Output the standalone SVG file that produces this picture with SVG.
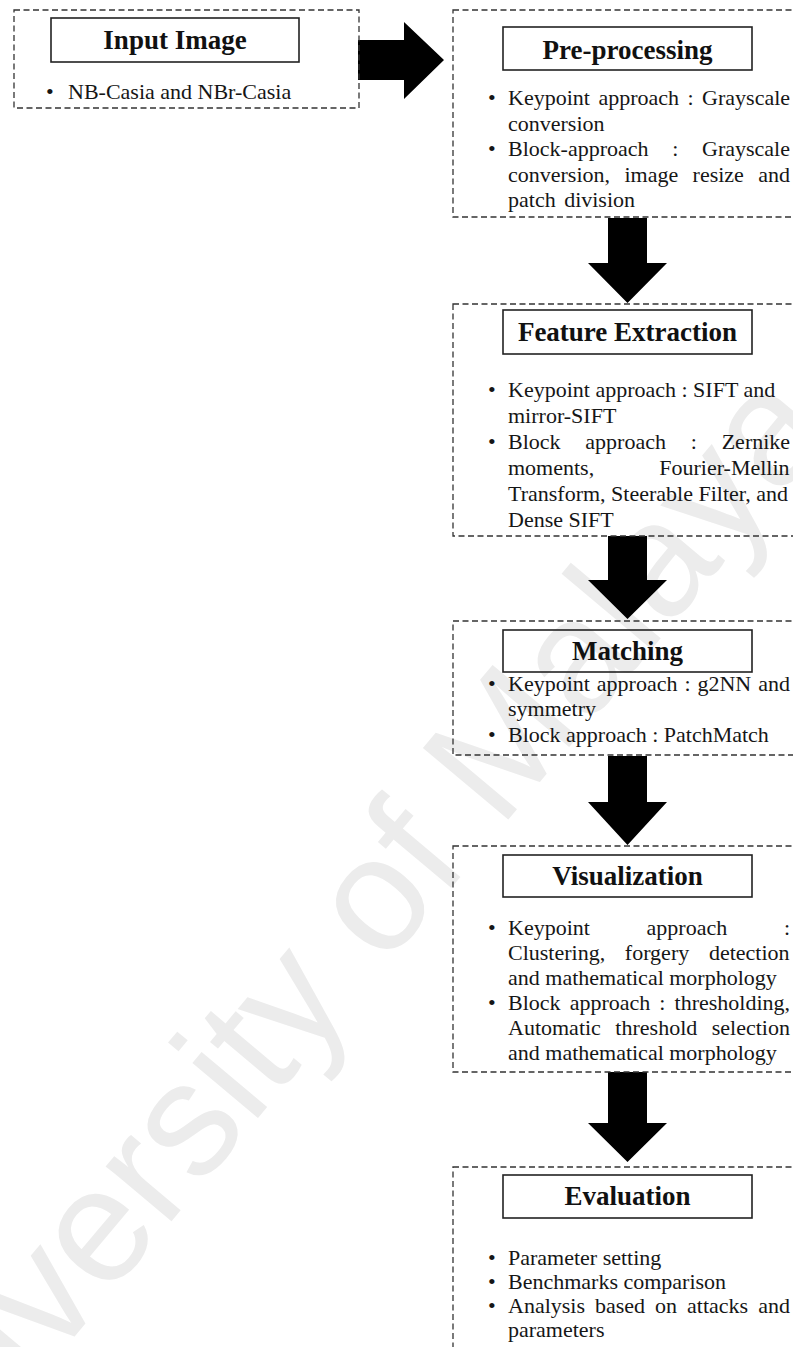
<svg xmlns="http://www.w3.org/2000/svg" width="793" height="1347" viewBox="0 0 793 1347">
  <style>
    .frame { fill: none; stroke: #333; stroke-width: 1.3; stroke-dasharray: 6 3.5; }
    .title-box { fill: none; stroke: #222; stroke-width: 1.6; }
    .title { font-family: "Liberation Serif", "Times New Roman", serif; font-weight: bold; font-size: 27px; text-anchor: middle; fill: #111; }
    .body { font-family: "Liberation Serif", "Times New Roman", serif; font-size: 22px; fill: #161616; }
    .arrow { fill: #000; }
    .watermark { font-family: "Liberation Sans", Arial, sans-serif; font-size: 162px; fill: #ececec; }
  </style>

  <rect width="793" height="1347" fill="#fff"/>

  <!-- background watermark -->
  <text class="watermark" transform="translate(-102,1547) rotate(-50)">University of Malaya</text>

  <!-- block arrows between stages -->
  <g id="connectors">
    <path class="arrow" d="M358,40 H404 V22 L444,60 L404,99 V80 H358 Z"/>
    <path class="arrow" d="M608,218 H647 V263 H667 L627.5,303 L588,263 H608 Z"/>
    <path class="arrow" d="M608,536 H647 V580 H667 L627.5,619 L588,580 H608 Z"/>
    <path class="arrow" d="M608,756 H647 V802 H667 L627.5,845 L588,802 H608 Z"/>
    <path class="arrow" d="M608,1072 H647 V1123 H667 L627.5,1162 L588,1123 H608 Z"/>
  </g>

  <g id="input-image">
    <rect class="frame" x="14" y="10" width="345" height="98"/>
    <rect class="title-box" x="51" y="18" width="248" height="44"/>
    <text class="title" x="175" y="49">Input Image</text>
    <text class="body" x="46" y="99">•</text>
    <text class="body" x="68" y="99">NB-Casia and NBr-Casia</text>
  </g>

  <g id="pre-processing">
    <rect class="frame" x="453" y="10" width="360" height="207"/>
    <rect class="title-box" x="503" y="27" width="249" height="43"/>
    <text class="title" x="627.5" y="58.5">Pre-processing</text>
    <text class="body" x="488" y="105">•</text>
    <text class="body" x="508" y="105" word-spacing="3">Keypoint approach : Grayscale</text>
    <text class="body" x="508" y="130.5">conversion</text>
    <text class="body" x="488" y="156">•</text>
    <text class="body" x="508" y="156" word-spacing="18.2">Block-approach : Grayscale</text>
    <text class="body" x="508" y="181.5" word-spacing="8.9">conversion, image resize and</text>
    <text class="body" x="508" y="207" word-spacing="3">patch division</text>
  </g>

  <g id="feature-extraction">
    <rect class="frame" x="453" y="304" width="360" height="232"/>
    <rect class="title-box" x="503" y="310" width="249" height="44"/>
    <text class="title" x="627.5" y="341">Feature Extraction</text>
    <text class="body" x="488" y="397">•</text>
    <text class="body" x="508" y="397">Keypoint approach : SIFT and</text>
    <text class="body" x="508" y="423">mirror-SIFT</text>
    <text class="body" x="488" y="449">•</text>
    <text class="body" x="508" y="449" word-spacing="19.3">Block approach : Zernike</text>
    <text class="body" x="508" y="475" word-spacing="59.6">moments, Fourier-Mellin</text>
    <text class="body" x="508" y="501">Transform, Steerable Filter, and</text>
    <text class="body" x="508" y="527">Dense SIFT</text>
  </g>

  <g id="matching">
    <rect class="frame" x="453" y="621" width="360" height="134"/>
    <rect class="title-box" x="503" y="630" width="249" height="42"/>
    <text class="title" x="627.5" y="660">Matching</text>
    <text class="body" x="488" y="691">•</text>
    <text class="body" x="508" y="691" word-spacing="1.45">Keypoint approach : g2NN and</text>
    <text class="body" x="508" y="716">symmetry</text>
    <text class="body" x="488" y="742">•</text>
    <text class="body" x="508" y="742">Block approach : PatchMatch</text>
  </g>

  <g id="visualization">
    <rect class="frame" x="453" y="846" width="360" height="226"/>
    <rect class="title-box" x="503" y="855" width="249" height="42"/>
    <text class="title" x="627.5" y="885">Visualization</text>
    <text class="body" x="488" y="935">•</text>
    <text class="body" x="508" y="935" word-spacing="51.2">Keypoint approach :</text>
    <text class="body" x="508" y="960" word-spacing="14.2">Clustering, forgery detection</text>
    <text class="body" x="508" y="985">and mathematical morphology</text>
    <text class="body" x="488" y="1010">•</text>
    <text class="body" x="508" y="1010" word-spacing="3.6">Block approach : thresholding,</text>
    <text class="body" x="508" y="1035" word-spacing="9">Automatic threshold selection</text>
    <text class="body" x="508" y="1060">and mathematical morphology</text>
  </g>

  <g id="evaluation">
    <rect class="frame" x="453" y="1167" width="360" height="220"/>
    <rect class="title-box" x="503" y="1175" width="249" height="43"/>
    <text class="title" x="627.5" y="1205">Evaluation</text>
    <text class="body" x="488" y="1265">•</text>
    <text class="body" x="508" y="1265">Parameter setting</text>
    <text class="body" x="488" y="1289">•</text>
    <text class="body" x="508" y="1289">Benchmarks comparison</text>
    <text class="body" x="488" y="1313">•</text>
    <text class="body" x="508" y="1313" word-spacing="4.5">Analysis based on attacks and</text>
    <text class="body" x="508" y="1337">parameters</text>
  </g>
</svg>
